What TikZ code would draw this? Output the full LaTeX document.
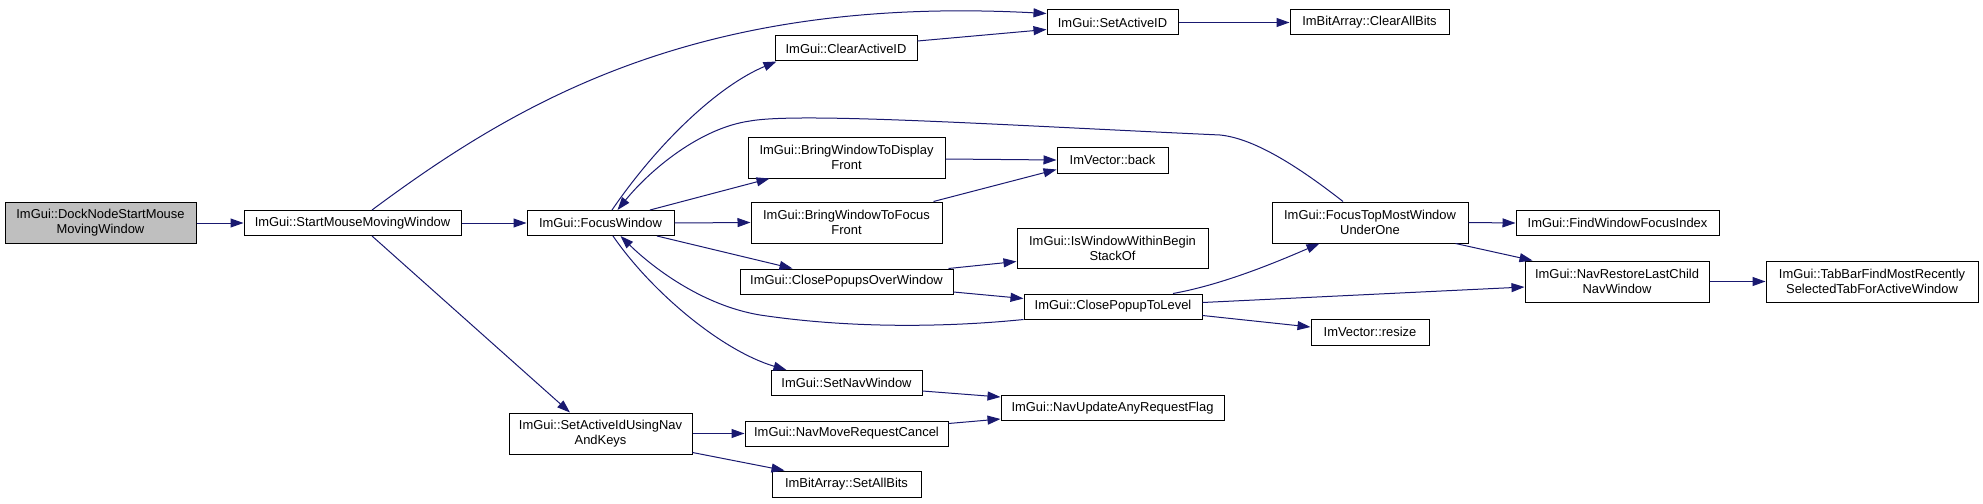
\documentclass[tikz,border=0pt]{standalone}
\usepackage{fontspec}
\setmainfont{Liberation Sans}
\usetikzlibrary{arrows.meta,calc}
\definecolor{edgeblue}{HTML}{191970}
\definecolor{boxgray}{HTML}{BFBFBF}
\tikzset{
  box/.style={draw=black, line width=0.75pt, rectangle, inner sep=0pt, align=center,
    minimum height=18.75pt, font=\fontsize{9.7pt}{11.25pt}\selectfont, text=black},
  tall/.style={minimum height=30.75pt},
  wd/.style={minimum width=#1*0.75pt},
  edge/.style={draw=edgeblue, line width=0.75pt, -{Triangle[length=9.75pt,width=6.75pt]}},
}
\begin{document}
\begin{tikzpicture}[x=0.75pt,y=-0.75pt]
\useasboundingbox (0,0) rectangle (1983,503);
% nodes
\node[box,tall,fill=boxgray,wd=191] (dock) at (100.5,223) {ImGui::DockNodeStartMouse\\MovingWindow};
\node[box,wd=217] (start) at (352.5,223) {ImGui::StartMouseMovingWindow};
\node[box,wd=147] (focus) at (600.5,223) {ImGui::FocusWindow};
\node[box,wd=142] (clear) at (846,48.5) {ImGui::ClearActiveID};
\node[box,wd=131] (setactive) at (1112.5,22.5) {ImGui::SetActiveID};
\node[box,wd=159] (clearall) at (1369.5,22.5) {ImBitArray::ClearAllBits};
\node[box,tall,wd=197] (bwdisp) at (846.5,157.5) {ImGui::BringWindowToDisplay\\Front};
\node[box,tall,wd=191] (bwfocus) at (846.5,222.5) {ImGui::BringWindowToFocus\\Front};
\node[box,wd=111,minimum height=19.5pt] (back) at (1112.5,160) {ImVector::back};
\node[box,wd=213] (cpow) at (846.5,281.5) {ImGui::ClosePopupsOverWindow};
\node[box,wd=191,minimum height=30pt] (iswin) at (1112.5,248) {ImGui::IsWindowWithinBegin\\StackOf};
\node[box,wd=178] (cptl) at (1113,306.5) {ImGui::ClosePopupToLevel};
\node[box,wd=118,minimum height=19.5pt] (resize) at (1370,332) {ImVector::resize};
\node[box,tall,wd=196] (ftm) at (1370,222.5) {ImGui::FocusTopMostWindow\\UnderOne};
\node[box,wd=203] (findidx) at (1617.5,223) {ImGui::FindWindowFocusIndex};
\node[box,tall,wd=184] (navrest) at (1617,281.5) {ImGui::NavRestoreLastChild\\NavWindow};
\node[box,tall,wd=212] (tabbar) at (1872,281.5) {ImGui::TabBarFindMostRecently\\SelectedTabForActiveWindow};
\node[box,wd=151] (setnav) at (846.5,383) {ImGui::SetNavWindow};
\node[box,wd=223] (navupd) at (1112.5,408) {ImGui::NavUpdateAnyRequestFlag};
\node[box,tall,wd=183] (sain) at (600.5,433.5) {ImGui::SetActiveIdUsingNav\\AndKeys};
\node[box,wd=203] (nmrc) at (846.5,433.5) {ImGui::NavMoveRequestCancel};
\node[box,wd=149,minimum height=19.5pt] (setall) at (846.5,484) {ImBitArray::SetAllBits};
% edges
\draw[edge] (dock.east) -- (start.west);
\draw[edge] ($(start.north)+(19.5,0)$) .. controls (520,100) and (700,-5) .. ($(setactive.north west)+(0,4)$);
\draw[edge] (start.east) -- (focus.west);
\draw[edge] ($(start.south)+(19.5,0)$) -- ($(sain.north)+(-30.5,0)$);
\draw[edge] ($(focus.north)+(11.5,0)$) .. controls (660,140) and (720,85) .. ($(clear.south west)+(2,0)$);
\draw[edge] ($(clear.east)+(0,-7.5)$) -- ($(setactive.south west)+(0,-6)$);
\draw[edge] (setactive.east) -- (clearall.west);
\draw[edge] ($(focus.north)+(49.5,0)$) -- ($(bwdisp.south west)+(22,0)$);
\draw[edge] (focus.east) -- (bwfocus.west);
\draw[edge] ($(focus.south)+(56.5,0)$) -- ($(cpow.north west)+(53,0)$);
\draw[edge] ($(focus.south)+(12.5,0)$) .. controls (650,290) and (720,350) .. ($(setnav.north west)+(16,0)$);
\draw[edge] ($(ftm.north)+(-27,0)$) .. controls (1290,160) and (1250,138) .. (1220,135)
  .. controls (1000,125) and (800,112) .. (750,121)
  .. controls (700,128) and (650,170) .. ($(focus.north)+(17,0)$);
\draw[edge] (cptl.south west) .. controls (960,326) and (860,330) .. (760,315)
  .. controls (700,305) and (650,265) .. ($(focus.south)+(20,0)$);
\draw[edge] ($(bwdisp.east)+(0,1.5)$) -- (back.west);
\draw[edge] ($(bwfocus.north east)+(-9,0)$) -- ($(back.south west)+(0,-4)$);
\draw[edge] ($(cpow.north east)+(-5,0)$) -- ($(iswin.south west)+(0,-7)$);
\draw[edge] ($(cpow.east)+(0,10.5)$) -- ($(cptl.west)+(0,-8)$);
\draw[edge] ($(cptl.north)+(60,0)$) .. controls (1220,285) and (1270,265) .. ($(ftm.south west)+(48,0)$);
\draw[edge] ($(cptl.east)+(0,-4)$) -- ($(navrest.west)+(0,5.5)$);
\draw[edge] ($(cptl.south east)+(0,-4)$) -- ($(resize.west)+(0,-5)$);
\draw[edge] (ftm.east) -- (findidx.west);
\draw[edge] ($(ftm.south east)+(-13,0)$) -- ($(navrest.north west)+(8,0)$);
\draw[edge] (navrest.east) -- (tabbar.west);
\draw[edge] ($(setnav.east)+(0,8)$) -- ($(navupd.west)+(0,-11)$);
\draw[edge] (sain.east) -- (nmrc.west);
\draw[edge] ($(sain.south east)+(0,-2)$) -- ($(setall.north west)+(13,0)$);
\draw[edge] ($(nmrc.east)+(0,-10)$) -- ($(navupd.west)+(0,11)$);
\end{tikzpicture}
\end{document}
